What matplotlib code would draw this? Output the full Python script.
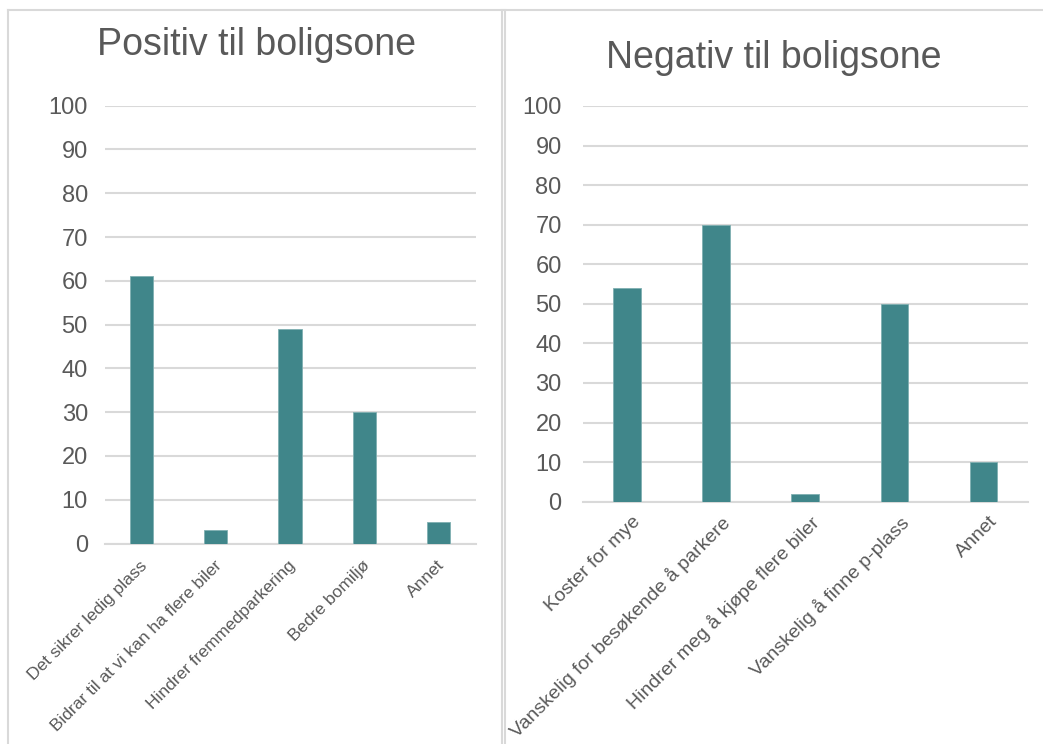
import matplotlib.pyplot as plt
import matplotlib.transforms as mtransforms
from matplotlib.lines import Line2D

plt.rcParams['font.family'] = ['Liberation Sans', 'DejaVu Sans']

# Positiv til boligsone
pos_labels = ['Det sikrer ledig plass', 'Bidrar til at vi kan ha flere biler',
              'Hindrer fremmedparkering', 'Bedre bomiljø', 'Annet']
pos_values = [61, 3, 49, 30, 5]

# Negativ til boligsone
neg_labels = ['Koster for mye', 'Vanskelig for besøkende å parkere',
              'Hindrer meg å kjøpe flere biler', 'Vanskelig å finne p-plass', 'Annet']
neg_values = [54, 70, 2, 50, 10]

y_ticks = list(range(0, 101, 10))

BAR = '#40868A'
GRID = '#D9D9D9'
TEXT = '#595959'

fig = plt.figure(figsize=(10.43, 7.44), dpi=100)
fig.patch.set_facecolor('white')

# pixel -> figure fraction helpers
W, H = 1043, 744
def fx(px):
    return px / W
def fy(py):
    return 1 - py / H

# panel frames
for xs, ys in [
    ([8, 8], [10, 760]), ([8, 1043], [10, 10]), ([502, 502], [10, 760]),
    ([505, 505], [10, 760]),
]:
    fig.add_artist(Line2D([fx(x) for x in xs], [fy(y) for y in ys],
                          color=GRID, lw=1.5))


def draw_panel(ax, labels, values, title, tx, ty, ypad, xsize, dx, dy):
    x = range(len(values))
    ax.bar(x, values, width=0.31, color=BAR, edgecolor='#7FAFB1', linewidth=0.6, zorder=3)
    ax.set_xlim(-0.5, len(values) - 0.5)
    ax.set_ylim(0, 100)
    ax.set_yticks(y_ticks)
    ax.set_yticklabels([str(v) for v in y_ticks], fontsize=17, color=TEXT)
    ax.yaxis.grid(True, color=GRID, linewidth=1.5, zorder=0)
    ax.set_axisbelow(True)
    ax.tick_params(axis='y', length=0, pad=ypad)
    ax.tick_params(axis='x', length=0, pad=6)
    ax.set_xticks(list(x))
    ax.set_xticklabels(labels, rotation=45, ha='right', rotation_mode='anchor',
                       fontsize=xsize, color=TEXT)
    shift = mtransforms.ScaledTranslation(dx / 100, dy / 100, fig.dpi_scale_trans)
    for lab in ax.get_xticklabels():
        lab.set_transform(lab.get_transform() + shift)
    for s in ax.spines.values():
        s.set_visible(False)
    ax.spines['bottom'].set_visible(True)
    ax.spines['bottom'].set_color(GRID)
    ax.spines['bottom'].set_linewidth(1.5)
    fig.text(tx, ty, title, ha='center', va='baseline', fontsize=27, color=TEXT)


ax1 = fig.add_axes([fx(104.5), fy(543.5), fx(475.5) - fx(104.5), fy(105.7) - fy(543.5)])
draw_panel(ax1, pos_labels, pos_values, 'Positiv til boligsone', fx(256.5), fy(55),
           12, 12.5, -2, -6)

ax2 = fig.add_axes([fx(582.5), fy(501.7), fx(1028) - fx(582.5), fy(106) - fy(501.7)])
draw_panel(ax2, neg_labels, neg_values, 'Negativ til boligsone', fx(773.5), fy(68),
           15, 14, 5, -3)

fig.savefig('out.png', dpi=100, facecolor='white')
